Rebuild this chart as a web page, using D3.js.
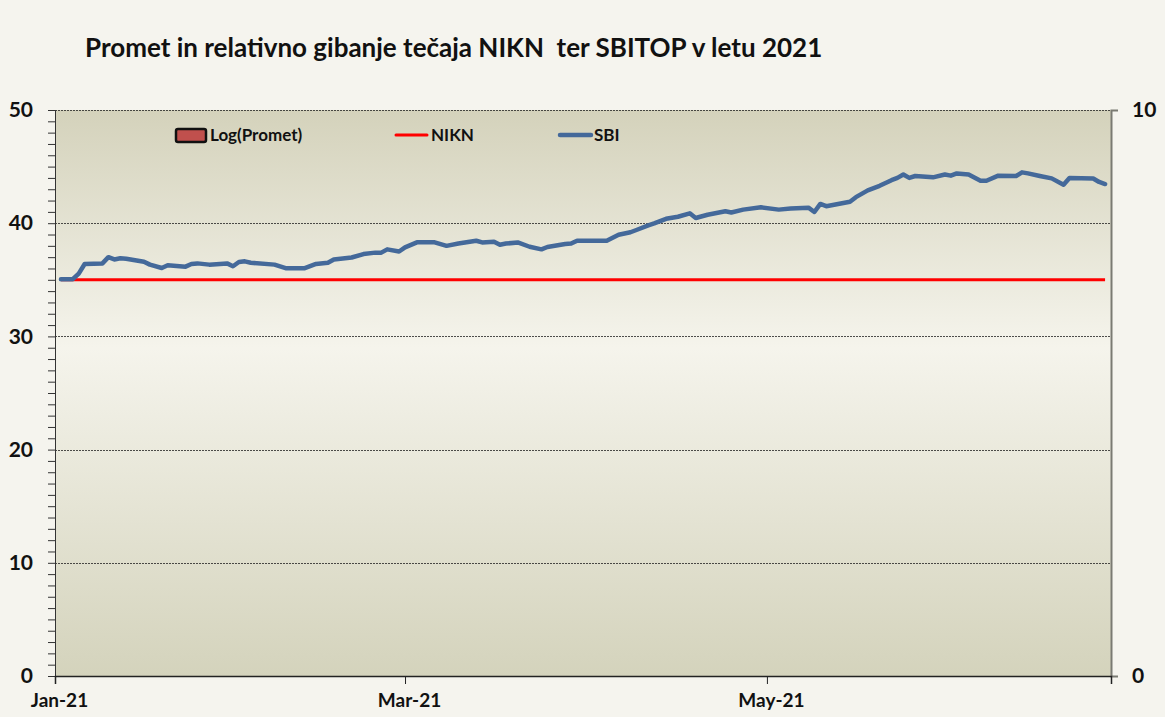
<!DOCTYPE html>
<html>
<head>
<meta charset="utf-8">
<script src="https://cdn.jsdelivr.net/npm/d3@7"></script>
<style>
  body { margin: 0; background: #f5f4ee; }
  svg text { font-family: Lato, "Open Sans", sans-serif; font-weight: bold; fill: #111; }
</style>
</head>
<body>
<div id="chart"></div>
<script>
// SBI relative to NIKN start value
const sbiDates = [
  "2021-01-02","2021-01-04","2021-01-05","2021-01-06","2021-01-09","2021-01-10","2021-01-11","2021-01-12",
  "2021-01-13","2021-01-16","2021-01-17","2021-01-19","2021-01-20","2021-01-23","2021-01-24","2021-01-25",
  "2021-01-27","2021-01-30","2021-01-31","2021-02-01","2021-02-02","2021-02-03","2021-02-07","2021-02-09",
  "2021-02-12","2021-02-14","2021-02-16","2021-02-17","2021-02-20","2021-02-22","2021-02-24","2021-02-25",
  "2021-02-26","2021-02-28","2021-03-01","2021-03-03","2021-03-06","2021-03-08","2021-03-10","2021-03-13",
  "2021-03-14","2021-03-16","2021-03-17","2021-03-18","2021-03-20","2021-03-22","2021-03-24","2021-03-25",
  "2021-03-28","2021-03-29","2021-03-30","2021-04-04","2021-04-06","2021-04-08","2021-04-09","2021-04-11",
  "2021-04-12","2021-04-14","2021-04-16","2021-04-18","2021-04-19","2021-04-21","2021-04-24","2021-04-25",
  "2021-04-27","2021-04-30","2021-05-03","2021-05-05","2021-05-08","2021-05-09","2021-05-10","2021-05-11",
  "2021-05-15","2021-05-16","2021-05-18","2021-05-20","2021-05-22","2021-05-23","2021-05-24","2021-05-25",
  "2021-05-26","2021-05-29","2021-05-31","2021-06-01","2021-06-02","2021-06-04","2021-06-06","2021-06-07",
  "2021-06-09","2021-06-12","2021-06-13","2021-06-14","2021-06-16","2021-06-18","2021-06-20","2021-06-21",
  "2021-06-25","2021-06-26","2021-06-27"
];
const sbiValues = [
  35.05, 35.05, 35.55, 36.4, 36.45, 37.0, 36.8, 36.9,
  36.86, 36.6, 36.34, 36.04, 36.28, 36.16, 36.4, 36.45,
  36.34, 36.45, 36.2, 36.57, 36.63, 36.51, 36.34, 36.01,
  36.01, 36.4, 36.51, 36.8, 36.97, 37.27, 37.4, 37.4,
  37.69, 37.5, 37.87, 38.31, 38.31, 38.0, 38.21, 38.45,
  38.3, 38.37, 38.1, 38.2, 38.3, 37.92, 37.69, 37.9,
  38.16, 38.2, 38.45, 38.45, 38.98, 39.2, 39.4, 39.8,
  39.98, 40.39, 40.57, 40.87, 40.46, 40.75, 41.05, 40.95,
  41.2, 41.4, 41.2, 41.3, 41.37, 40.99, 41.7, 41.5,
  41.9, 42.3, 42.9, 43.3, 43.8, 44.0, 44.3, 44.0,
  44.17, 44.05, 44.3, 44.2, 44.4, 44.3, 43.75, 43.75,
  44.2, 44.17, 44.49, 44.4, 44.17, 43.96, 43.4, 44.0,
  43.95, 43.64, 43.46
];
const niknDates = ["2021-01-02", "2021-06-27"];
const niknValues = [35, 35];
// turnover (log) series has no visible bars in this period
const prometDates = [];
const prometValues = [];

const leftTicks = [0, 10, 20, 30, 40, 50];
const rightTicks = [0, 10];
const xTickDates = ["2021-01-01", "2021-03-01", "2021-05-01"];
const legendItems = ["Log(Promet)", "NIKN", "SBI"];
const titleText = "Promet in relativno gibanje tečaja NIKN  ter SBITOP v letu 2021";

const width = 1165, height = 717;
const margin = { top: 110, right: 54, bottom: 41, left: 55 };
const parse = d3.timeParse("%Y-%m-%d");
const fmt = d3.timeFormat("%b-%y");

const sbi = sbiDates.map((d, i) => ({ date: parse(d), value: sbiValues[i] }));
const nikn = niknDates.map((d, i) => ({ date: parse(d), value: niknValues[i] }));

const svg = d3.select("#chart").append("svg")
  .attr("width", width)
  .attr("height", height);

const x = d3.scaleTime()
  .domain([parse("2021-01-01"), parse("2021-06-28")])
  .range([margin.left, width - margin.right]);
const y = d3.scaleLinear()
  .domain([0, 50])
  .range([height - margin.bottom, margin.top]);
const y2 = d3.scaleLinear()
  .domain([0, 10])
  .range([height - margin.bottom, margin.top]);

// plot background gradient
const grad = svg.append("defs").append("linearGradient")
  .attr("id", "bg").attr("x1", 0).attr("y1", 0).attr("x2", 0).attr("y2", 1);
grad.append("stop").attr("offset", "0%").attr("stop-color", "#d4d2bb");
grad.append("stop").attr("offset", "42%").attr("stop-color", "#f5f4ec");
grad.append("stop").attr("offset", "100%").attr("stop-color", "#d4d3bc");

svg.append("rect")
  .attr("x", margin.left)
  .attr("y", margin.top)
  .attr("width", width - margin.left - margin.right)
  .attr("height", height - margin.top - margin.bottom)
  .attr("fill", "url(#bg)");

// gridlines
svg.append("g")
  .selectAll("line")
  .data(leftTicks.filter(d => d > 0))
  .join("line")
  .attr("x1", margin.left)
  .attr("x2", width - margin.right)
  .attr("y1", d => Math.round(y(d)) + 0.5)
  .attr("y2", d => Math.round(y(d)) + 0.5)
  .attr("stroke", "#222")
  .attr("stroke-width", 0.8)
  .attr("stroke-dasharray", "2,1");

// title
svg.append("text")
  .attr("x", 85)
  .attr("y", 57)
  .style("font-size", "26px")
  .style("white-space", "pre")
  .text(titleText);

// left axis with minor ticks
const leftAxis = svg.append("g")
  .attr("transform", `translate(${margin.left},0)`);
leftAxis.append("g")
  .call(d3.axisLeft(y).tickValues(d3.range(0, 51, 1)).tickSize(7).tickFormat(""))
  .call(g => g.select(".domain").attr("stroke", "#333"))
  .call(g => g.selectAll(".tick line").attr("stroke", "#333"));
leftAxis.append("g")
  .call(d3.axisLeft(y).tickValues(leftTicks).tickSize(0).tickPadding(22))
  .call(g => g.select(".domain").remove())
  .call(g => g.selectAll("text").style("font-size", "21px").attr("fill", "#111"));

// right axis
svg.append("g")
  .attr("transform", `translate(${width - margin.right},0)`)
  .call(d3.axisRight(y2).tickValues(rightTicks).tickSize(7).tickPadding(14))
  .call(g => g.select(".domain").attr("stroke", "#7a7a72").attr("stroke-width", 2))
  .call(g => g.selectAll(".tick line").attr("stroke", "#7a7a72"))
  .call(g => g.selectAll("text").style("font-size", "21px").attr("fill", "#111"));

// bottom axis
svg.append("g")
  .attr("transform", `translate(0,${height - margin.bottom})`)
  .call(d3.axisBottom(x).tickValues(xTickDates.map(parse)).tickSize(8).tickPadding(10).tickFormat(fmt))
  .call(g => g.select(".domain").attr("stroke", "#222").attr("stroke-width", 1.5))
  .call(g => g.selectAll(".tick line").attr("stroke", "#222"))
  .call(g => g.selectAll("text").style("font-size", "19px").attr("fill", "#111")
    .attr("transform", "translate(4,0)"));

// Log(Promet) bars on secondary axis (empty)
svg.append("g")
  .selectAll("rect")
  .data(prometDates.map((d, i) => ({ date: parse(d), value: prometValues[i] })))
  .join("rect")
  .attr("x", d => x(d.date) - 2)
  .attr("width", 4)
  .attr("y", d => y2(d.value))
  .attr("height", d => y2(0) - y2(d.value))
  .attr("fill", "#c0504d");

const line = d3.line()
  .x(d => x(d.date))
  .y(d => y(d.value));

svg.append("path")
  .datum(nikn)
  .attr("d", line)
  .attr("fill", "none")
  .attr("stroke", "#ff0000")
  .attr("stroke-width", 3);

svg.append("path")
  .datum(sbi)
  .attr("d", line)
  .attr("fill", "none")
  .attr("stroke", "#44699a")
  .attr("stroke-width", 4.5)
  .attr("stroke-linejoin", "round")
  .attr("stroke-linecap", "round");

// legend
const legend = svg.append("g").attr("transform", "translate(0,135)");
legend.append("rect")
  .attr("x", 176).attr("y", -6)
  .attr("width", 30).attr("height", 13)
  .attr("rx", 2)
  .attr("fill", "#c0504d")
  .attr("stroke", "#111")
  .attr("stroke-width", 2.5);
legend.append("text").attr("x", 210).attr("y", 6).style("font-size", "17px").text(legendItems[0]);
legend.append("line")
  .attr("x1", 396).attr("x2", 427).attr("y1", 0).attr("y2", 0)
  .attr("stroke", "#ff0000").attr("stroke-width", 3).attr("stroke-linecap", "round");
legend.append("text").attr("x", 431).attr("y", 6).style("font-size", "17px").text(legendItems[1]);
legend.append("line")
  .attr("x1", 560).attr("x2", 591).attr("y1", 0).attr("y2", 0)
  .attr("stroke", "#44699a").attr("stroke-width", 4.5).attr("stroke-linecap", "round");
legend.append("text").attr("x", 594).attr("y", 6).style("font-size", "17px").text(legendItems[2]);
</script>
</body>
</html>
